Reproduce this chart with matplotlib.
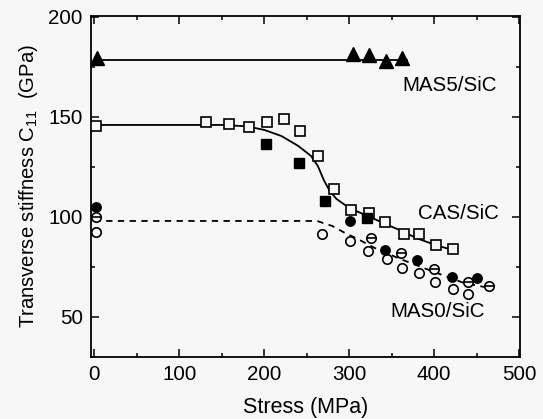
import matplotlib
matplotlib.use('Agg')
import matplotlib.pyplot as plt
from matplotlib.ticker import MultipleLocator

# ---------- Style ----------
BASE_FONT = 14.8
BG = '#f7f7f7'

plt.rcParams.update({
    'font.family': ['Liberation Sans', 'DejaVu Sans'],
    'font.size': BASE_FONT,
    'mathtext.fontset': 'custom',
    'mathtext.rm': 'Liberation Sans',
    'mathtext.it': 'Liberation Sans:italic',
    'axes.linewidth': 1.3,
})

# ---------- Data ----------
# MAS5/SiC (filled triangles)
mas5_x = [3, 304, 323, 343, 362]
mas5_y = [179.7, 181.7, 180.8, 177.8, 179.7]
mas5_fit_x = [0, 368]
mas5_fit_y = [178.3, 178.3]

# CAS/SiC (open squares / filled squares)
cas_open_x = [2, 131, 159, 182, 203, 223, 242, 263, 282, 302, 323, 342, 364, 382, 402, 422]
cas_open_y = [145.4, 147.5, 146.7, 145.2, 147.3, 149.2, 142.9, 130.5, 113.9, 103.5, 101.8,
              97.5, 91.7, 91.7, 86.2, 84.2]
cas_fill_x = [202, 241, 271, 321]
cas_fill_y = [136.7, 127.0, 108.2, 99.3]
cas_fit_x = [0, 150, 180, 200, 220, 240, 255, 263, 270, 277, 285, 300, 320, 340, 360, 380, 400, 423]
cas_fit_y = [146, 146, 145.3, 143.5, 140.5, 135.5, 130.5, 125.5, 118.5, 113, 109, 104.5,
             100.8, 97, 93.3, 89.3, 86.2, 83.3]

# MAS0/SiC (open circles, filled circles, circles with bar)
mas0_open_x = [2, 268, 301, 322, 344, 362, 382, 401, 422, 440]
mas0_open_y = [92.5, 91.7, 87.9, 82.9, 78.9, 74.5, 72.2, 67.5, 64.2, 61.6]
mas0_fill_x = [2, 301, 342, 380, 421, 450]
mas0_fill_y = [105, 97.9, 83.4, 78.4, 70.0, 69.6]
mas0_bar_x = [2, 326, 361, 400, 440, 464]
mas0_bar_y = [100, 89.7, 82.0, 74.2, 67.5, 65.3]
mas0_fit_x = [0, 262, 280, 295, 310, 330, 360, 395, 435, 465]
mas0_fit_y = [98, 98, 95.5, 92, 89, 84.5, 79, 73.3, 67, 64.5]

labels = [('MAS5/SiC', 362, 165.8), ('CAS/SiC', 381, 101.7), ('MAS0/SiC', 348, 52.5)]

# ---------- Figure ----------
fig = plt.figure(figsize=(5.43, 4.19), dpi=100, facecolor=BG)
ax = fig.add_axes([0.1676, 0.148, 0.790, 0.814], facecolor=BG)

# fits
ax.plot(mas5_fit_x, mas5_fit_y, '-', color='black', lw=1.3, zorder=2)
ax.plot(cas_fit_x, cas_fit_y, '-', color='black', lw=1.3, zorder=2)
ax.plot(mas0_fit_x, mas0_fit_y, '--', color='black', lw=1.3, dashes=(3.5, 3), zorder=2)

# markers
ax.plot(mas5_x, mas5_y, '^', color='black', ms=9.5, ls='none', zorder=3)
ax.plot(cas_open_x, cas_open_y, 's', mfc=BG, mec='black', mew=1.2, ms=6.8, ls='none', zorder=3)
ax.plot(cas_fill_x, cas_fill_y, 's', color='black', ms=6.8, ls='none', zorder=3)
ax.plot(mas0_open_x, mas0_open_y, 'o', mfc=BG, mec='black', mew=1.2, ms=6.8, ls='none', zorder=3)
ax.plot(mas0_fill_x, mas0_fill_y, 'o', color='black', ms=6.8, ls='none', zorder=3)
ax.plot(mas0_bar_x, mas0_bar_y, 'o', mfc=BG, mec='black', mew=1.2, ms=6.8, ls='none', zorder=3)
ax.plot(mas0_bar_x, mas0_bar_y, '_', color='black', mew=1.2, ms=6.8, ls='none', zorder=4)

for txt, tx, ty in labels:
    ax.text(tx, ty, txt, ha='left', va='center', fontsize=BASE_FONT)

# ---------- axes ----------
ax.set_xlim(-4, 501)
ax.set_ylim(30, 200.5)
ax.set_xticks([0, 100, 200, 300, 400, 500])
ax.set_yticks([50, 100, 150, 200])
ax.xaxis.set_minor_locator(MultipleLocator(50))
ax.yaxis.set_minor_locator(MultipleLocator(25))
ax.tick_params(which='both', direction='in', top=True, right=True, width=1.1)
ax.tick_params(which='major', length=6, pad=6)
ax.tick_params(which='minor', length=3)

ax.set_xlabel('Stress (MPa)', fontsize=15.5, labelpad=9)
ax.set_ylabel(r'Transverse stiffness C$_{\mathregular{11}}$  (GPa)', fontsize=14.6, labelpad=6)

fig.savefig('out.png', dpi=100, facecolor=BG)
